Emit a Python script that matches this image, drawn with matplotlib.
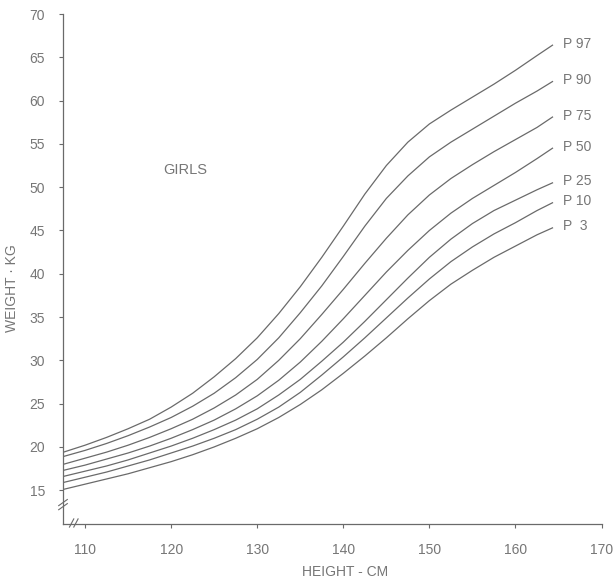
import matplotlib
matplotlib.use("Agg")
import matplotlib.pyplot as plt

plt.rcParams['font.family'] = ['Liberation Sans', 'DejaVu Sans']

# Height (cm)
height = [107.5, 110, 112.5, 115, 117.5, 120, 122.5, 125, 127.5, 130, 132.5, 135,
          137.5, 140, 142.5, 145, 147.5, 150, 152.5, 155, 157.5, 160, 162.5, 164.3]

# Weight percentiles (kg)
p97 = [19.4, 20.2, 21.1, 22.1, 23.2, 24.6, 26.2, 28.1, 30.2, 32.6, 35.4, 38.5,
       41.9, 45.5, 49.2, 52.5, 55.2, 57.3, 58.9, 60.4, 61.9, 63.5, 65.2, 66.4]
p90 = [18.9, 19.6, 20.4, 21.3, 22.3, 23.4, 24.7, 26.2, 28.0, 30.1, 32.6, 35.5,
       38.6, 42.0, 45.5, 48.7, 51.3, 53.5, 55.2, 56.7, 58.2, 59.7, 61.1, 62.2]
p75 = [18.0, 18.7, 19.4, 20.2, 21.1, 22.1, 23.2, 24.5, 26.0, 27.8, 30.0, 32.5,
       35.3, 38.2, 41.2, 44.1, 46.8, 49.1, 51.0, 52.6, 54.1, 55.5, 56.9, 58.1]
p50 = [17.3, 17.9, 18.6, 19.3, 20.1, 21.0, 22.0, 23.1, 24.4, 25.9, 27.7, 29.8,
       32.2, 34.8, 37.5, 40.2, 42.7, 45.0, 47.0, 48.7, 50.2, 51.7, 53.3, 54.5]
p25 = [16.6, 17.2, 17.8, 18.5, 19.3, 20.1, 21.0, 22.0, 23.1, 24.4, 26.0, 27.8,
       29.9, 32.1, 34.5, 37.0, 39.5, 41.9, 44.0, 45.8, 47.3, 48.5, 49.7, 50.5]
p10 = [15.9, 16.5, 17.1, 17.8, 18.5, 19.3, 20.1, 21.0, 22.0, 23.2, 24.6, 26.3,
       28.3, 30.4, 32.6, 34.9, 37.2, 39.4, 41.4, 43.1, 44.6, 45.9, 47.3, 48.2]
p3  = [15.1, 15.7, 16.3, 16.9, 17.6, 18.3, 19.1, 20.0, 21.0, 22.1, 23.4, 24.9,
       26.6, 28.5, 30.5, 32.6, 34.8, 36.9, 38.8, 40.4, 41.9, 43.2, 44.5, 45.3]

series = [p97, p90, p75, p50, p25, p10, p3]
labels = ["P 97", "P 90", "P 75", "P 50", "P 25", "P 10", "P  3"]

xticks = [110, 120, 130, 140, 150, 160, 170]
yticks = [15, 20, 25, 30, 35, 40, 45, 50, 55, 60, 65, 70]

line_col = "#6a6a6a"
text_col = "#767676"

fig = plt.figure(figsize=(6.14, 5.83), dpi=100)
ax = fig.add_axes([63/614, 59/583, 539/614, 510/583])
ax.set_xlim(107.44, 170.05)
ax.set_ylim(11.1, 70)

for s, lab in zip(series, labels):
    ax.plot(height, s, color=line_col, lw=0.9, solid_joinstyle="round")
    ax.annotate(lab, xy=(height[-1], s[-1]), xytext=(7.5, 1), textcoords="offset points",
                fontsize=10, color=text_col, va="center", ha="left")

ax.text(119.1, 52.0, "GIRLS", fontsize=10.5, color=text_col, ha="left", va="center")

for sp in ["top", "right"]:
    ax.spines[sp].set_visible(False)
for sp in ["left", "bottom"]:
    ax.spines[sp].set_color(line_col)
    ax.spines[sp].set_linewidth(0.9)

ax.set_xticks(xticks)
ax.set_yticks(yticks)
ax.tick_params(axis="both", colors=line_col, labelcolor=text_col, labelsize=10,
               length=3, width=0.8, direction="out")
ax.tick_params(axis="x", pad=11)
ax.tick_params(axis="y", pad=10)

ax.set_xlabel("HEIGHT - CM", fontsize=10, color=text_col)
ax.set_ylabel("WEIGHT · KG", fontsize=10, color=text_col)
ax.xaxis.set_label_coords(0.523, -0.080)
ax.yaxis.set_label_coords(-0.082, 0.463)

# axis break marks (decoration)
tr = ax.transAxes
for dy in (0.0, 0.008):
    ax.plot([-0.008, 0.008], [0.028 + dy, 0.040 + dy], color=line_col, lw=0.8,
            transform=tr, clip_on=False)
for dx in (0.0, 0.008):
    ax.plot([0.012 + dx, 0.020 + dx], [-0.006, 0.010], color=line_col, lw=0.8,
            transform=tr, clip_on=False)

fig.savefig("out.png", dpi=100, facecolor="white")
